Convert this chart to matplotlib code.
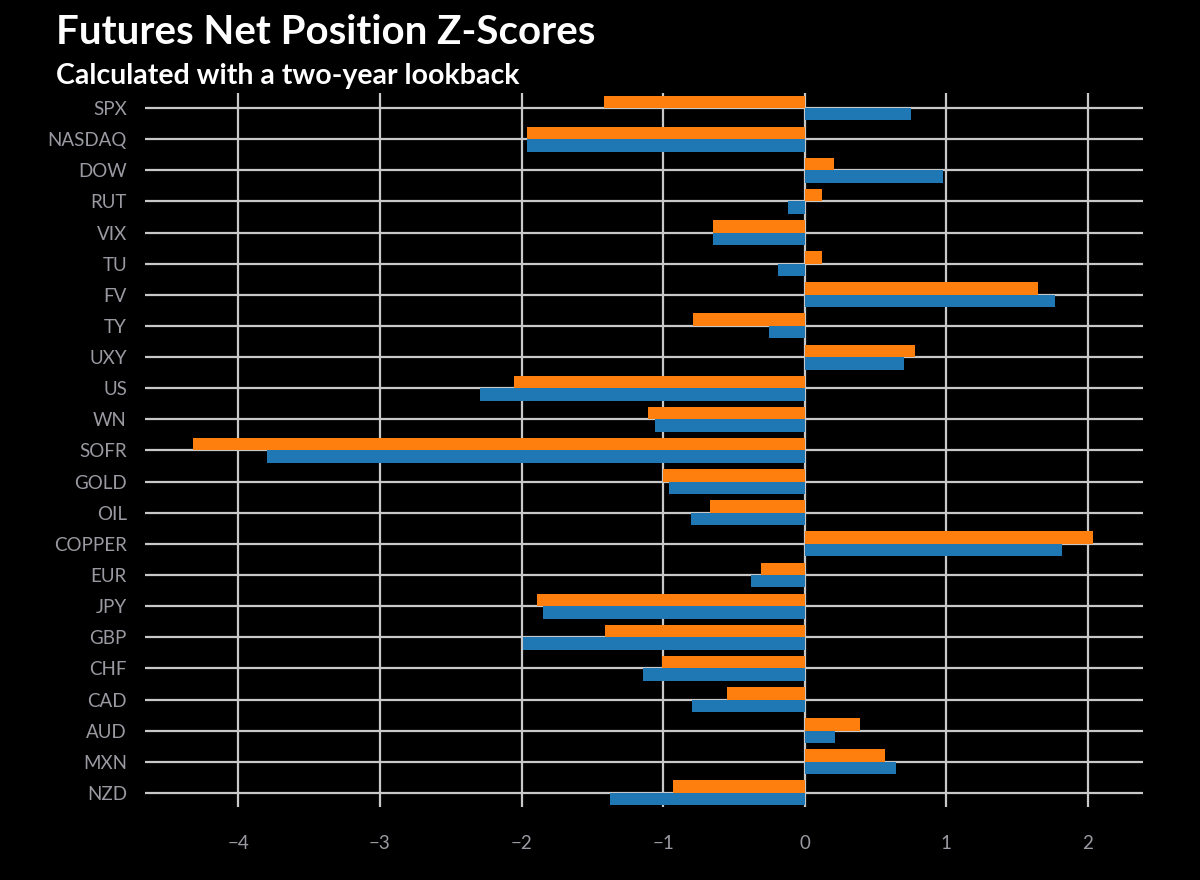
# Futures Net Position Z-Scores

import numpy as np
import matplotlib.pyplot as plt

# Categories, top to bottom
markets = ['SPX', 'NASDAQ', 'DOW', 'RUT', 'VIX', 'TU', 'FV', 'TY', 'UXY', 'US', 'WN',
           'SOFR', 'GOLD', 'OIL', 'COPPER', 'EUR', 'JPY', 'GBP', 'CHF', 'CAD', 'AUD',
           'MXN', 'NZD']

# Orange series (upper bar in each pair)
orange_vals = [-1.42, -1.96, 0.21, 0.12, -0.65, 0.125, 1.65, -0.79, 0.78, -2.05, -1.11,
               -4.32, -1.00, -0.67, 2.04, -0.31, -1.89, -1.41, -1.01, -0.55, 0.39,
               0.57, -0.93]

# Blue series (lower bar in each pair)
blue_vals = [0.75, -1.96, 0.98, -0.115, -0.645, -0.19, 1.77, -0.25, 0.70, -2.29, -1.06,
             -3.80, -0.955, -0.80, 1.82, -0.38, -1.85, -1.99, -1.14, -0.795, 0.215,
             0.645, -1.375]

x_ticks = [-4, -3, -2, -1, 0, 1, 2]

plt.rcParams['font.family'] = ['Lato', 'DejaVu Sans']

fig = plt.figure(figsize=(12, 8.8), dpi=100, facecolor='black')
ax = fig.add_axes([0.1208, 0.083, 0.8317, 0.8113], facecolor='black')

y = np.arange(len(markets))
h = 0.4
ax.barh(y - h / 2, orange_vals, height=h, color='#ff7f0e', zorder=3)
ax.barh(y + h / 2, blue_vals, height=h, color='#1f77b4', zorder=3)

ax.set_yticks(y)
ax.set_yticklabels(markets)
ax.set_ylim(len(markets) - 1 + 0.45, -0.48)
ax.set_xticks(x_ticks)
ax.set_xlim(-4.66, 2.39)

# grid lines behind the bars
ax.grid(True, color='#c8c8c8', linewidth=1.6, zorder=0)
ax.set_axisbelow(True)

for s in ax.spines.values():
    s.set_visible(False)
ax.tick_params(axis='both', length=0, colors='#9a9aa2', labelsize=13.5)
ax.tick_params(axis='y', pad=13)
ax.tick_params(axis='x', pad=20)

# Titles
fig.text(0.047, 0.963, 'Futures Net Position Z-Scores', color='white',
         fontsize=29, fontweight='bold', va='center', ha='left')
fig.text(0.047, 0.914, 'Calculated with a two-year lookback', color='white',
         fontsize=20.5, fontweight='bold', va='center', ha='left')

plt.savefig('out.png', dpi=100, facecolor='black')
